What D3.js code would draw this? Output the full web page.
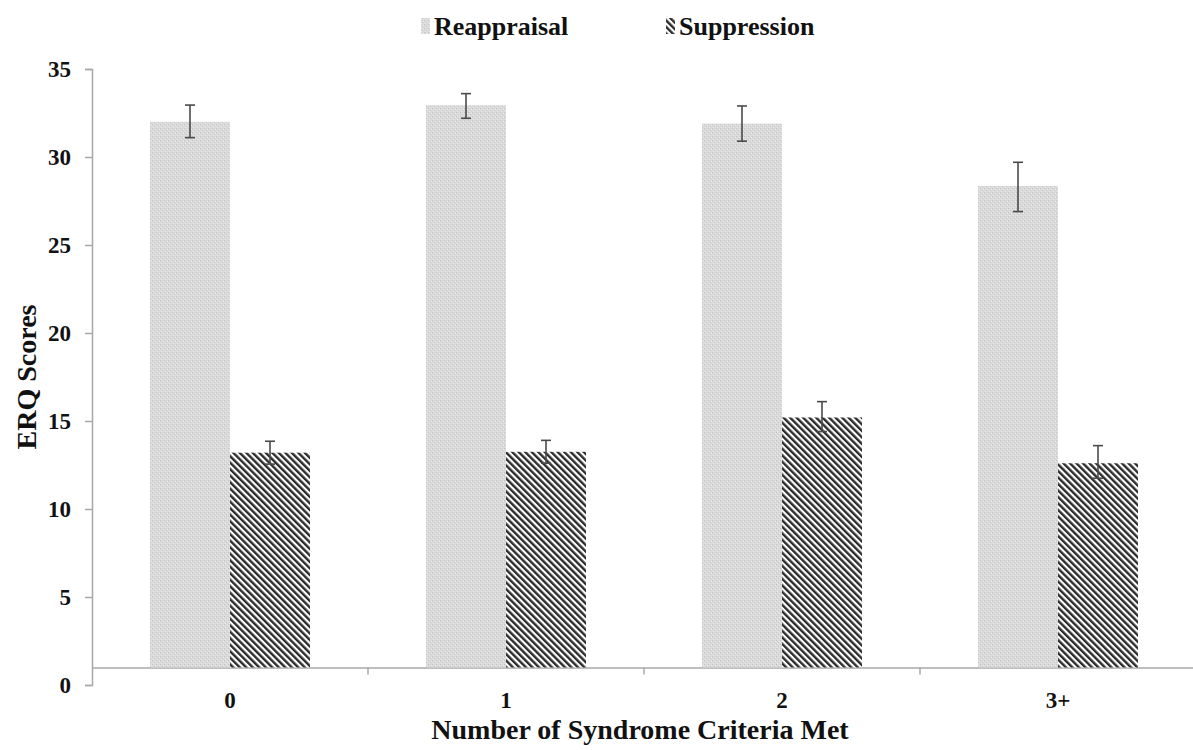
<!DOCTYPE html>
<html>
<head>
<meta charset="utf-8">
<script src="https://cdn.jsdelivr.net/npm/d3@7"></script>
<style>
  html, body { margin: 0; padding: 0; background: #fff; }
  svg { display: block; }
  text { font-family: "Liberation Serif", "DejaVu Serif", serif; font-weight: bold; fill: #111; }
</style>
</head>
<body>
<svg id="chart" width="1193" height="750"></svg>
<script>
// ERQ scores by number of syndrome criteria met
const categories = ["0", "1", "2", "3+"];
const seriesNames = ["Reappraisal", "Suppression"];
const reappraisal = [32.0, 32.95, 31.9, 28.35];
const reappraisalLow = [31.1, 32.2, 30.9, 26.9];
const reappraisalHigh = [32.95, 33.6, 32.9, 29.7];
const suppression = [13.2, 13.25, 15.2, 12.6];
const suppressionLow = [12.55, 12.6, 14.4, 11.75];
const suppressionHigh = [13.85, 13.9, 16.1, 13.6];
const yTicks = [0, 5, 10, 15, 20, 25, 30, 35];
const baseline = 1; // horizontal axis crosses the value axis here

const svg = d3.select("#chart");
const defs = svg.append("defs");

// Fine grey stipple for Reappraisal
const dots = defs.append("pattern")
  .attr("id", "stipple").attr("patternUnits", "userSpaceOnUse")
  .attr("width", 4).attr("height", 4);
dots.append("rect").attr("width", 4).attr("height", 4).attr("fill", "#dadada");
dots.append("rect").attr("x", 0).attr("y", 0).attr("width", 1).attr("height", 1).attr("fill", "#c2c2c2");
dots.append("rect").attr("x", 2).attr("y", 2).attr("width", 1).attr("height", 1).attr("fill", "#c8c8c8");
dots.append("rect").attr("x", 3).attr("y", 1).attr("width", 1).attr("height", 1).attr("fill", "#ebebeb");
dots.append("rect").attr("x", 1).attr("y", 3).attr("width", 1).attr("height", 1).attr("fill", "#ebebeb");

// Diagonal hatch for Suppression
const hatch = defs.append("pattern")
  .attr("id", "hatch").attr("patternUnits", "userSpaceOnUse")
  .attr("width", 4.6).attr("height", 4.6)
  .attr("patternTransform", "rotate(-45)");
hatch.append("rect").attr("width", 4.6).attr("height", 4.6).attr("fill", "#ffffff");
hatch.append("rect").attr("x", 0).attr("y", 0).attr("width", 2.4).attr("height", 4.6).attr("fill", "#2b2b2b");

const fills = ["url(#stipple)", "url(#hatch)"];

const y = d3.scaleLinear().domain([0, 35]).range([685, 69]);
const x = d3.scaleBand().domain(categories).range([92, 1196]).paddingInner(0).paddingOuter(0);
const inner = d3.scaleBand().domain(seriesNames).range([58, 218]).padding(0);

const axisColor = "#a8a8a8";
const tickFont = "23px";

// Value axis
const yAxis = svg.append("g").attr("transform", "translate(92,0)")
  .call(d3.axisLeft(y).tickValues(yTicks).tickSize(7).tickPadding(14));
yAxis.select(".domain").attr("stroke", axisColor).attr("stroke-width", 1.5);
yAxis.selectAll(".tick line").attr("stroke", axisColor).attr("stroke-width", 1.5);
yAxis.selectAll(".tick text").style("font-size", tickFont)
  .style("font-family", "'Liberation Serif', serif").style("font-weight", "bold").attr("fill", "#111");

// Category axis at the baseline
const xAxis = svg.append("g").attr("transform", `translate(0,${y(baseline)})`)
  .call(d3.axisBottom(x).tickSize(0).tickPadding(24));
xAxis.select(".domain").attr("stroke", axisColor).attr("stroke-width", 1.5);
xAxis.selectAll(".tick text").style("font-size", tickFont)
  .style("font-family", "'Liberation Serif', serif").style("font-weight", "bold").attr("fill", "#111");
// Separators between categories
svg.append("g").selectAll("line").data(categories.slice(1)).join("line")
  .attr("x1", d => x(d)).attr("x2", d => x(d))
  .attr("y1", y(baseline)).attr("y2", y(baseline) + 7)
  .attr("stroke", axisColor).attr("stroke-width", 1.5);

// Bars
const series = [
  { name: seriesNames[0], values: reappraisal, lo: reappraisalLow, hi: reappraisalHigh },
  { name: seriesNames[1], values: suppression, lo: suppressionLow, hi: suppressionHigh }
];

series.forEach((s, si) => {
  const g = svg.append("g");
  g.selectAll("rect").data(categories).join("rect")
    .attr("x", c => x(c) + inner(s.name))
    .attr("width", inner.bandwidth())
    .attr("y", (c, i) => y(s.values[i]))
    .attr("height", (c, i) => y(baseline) - y(s.values[i]))
    .attr("fill", fills[si]);
});

// Error bars
series.forEach(s => {
  const eb = svg.append("g").attr("stroke", "#4a4a4a").attr("stroke-width", 1.6);
  categories.forEach((c, i) => {
    const cx = x(c) + inner(s.name) + inner.bandwidth() / 2;
    eb.append("line").attr("x1", cx).attr("x2", cx).attr("y1", y(s.hi[i])).attr("y2", y(s.lo[i]));
    eb.append("line").attr("x1", cx - 5).attr("x2", cx + 5).attr("y1", y(s.hi[i])).attr("y2", y(s.hi[i]));
    eb.append("line").attr("x1", cx - 5).attr("x2", cx + 5).attr("y1", y(s.lo[i])).attr("y2", y(s.lo[i]));
  });
});

// Legend
const legendX = [421, 666];
const legend = svg.append("g");
seriesNames.forEach((n, i) => {
  legend.append("rect").attr("x", legendX[i]).attr("y", 18).attr("width", 9).attr("height", 16)
    .attr("fill", fills[i]);
  legend.append("text").attr("x", legendX[i] + 13).attr("y", 35)
    .style("font-size", "26px").text(n);
});

// Axis titles
svg.append("text")
  .attr("transform", "translate(36,377) rotate(-90)")
  .attr("text-anchor", "middle").style("font-size", "28px").text("ERQ Scores");
svg.append("text")
  .attr("x", 640).attr("y", 739).attr("text-anchor", "middle")
  .style("font-size", "28px").text("Number of Syndrome Criteria Met");
</script>
</body>
</html>
